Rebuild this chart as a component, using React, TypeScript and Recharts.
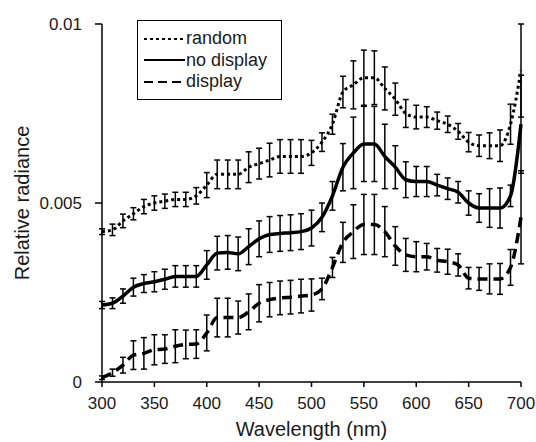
import { LineChart, Line, XAxis, YAxis, ErrorBar, Label } from 'recharts';

const wavelengths = [
  300, 310, 320, 330, 340, 350, 360, 370, 380, 390, 400, 410, 420, 430, 440, 450, 460, 470, 480, 490,
  500, 510, 520, 530, 540, 550, 560, 570, 580, 590, 600, 610, 620, 630, 640, 650, 660, 670, 680, 690, 700,
];

const random = [
  0.0042, 0.00425, 0.0045, 0.0047, 0.0049, 0.005, 0.00505, 0.0051, 0.0051, 0.0052, 0.0055, 0.0058, 0.0058,
  0.0058, 0.006, 0.0061, 0.0062, 0.0063, 0.0063, 0.0063, 0.0064, 0.0067, 0.0072, 0.0081, 0.0083, 0.0085,
  0.0085, 0.0082, 0.0079, 0.0075, 0.0074, 0.0074, 0.0073, 0.0072, 0.007, 0.0067, 0.0066, 0.0066, 0.0066,
  0.0072, 0.0087,
];
const randomErr = [
  0.00008, 0.00016, 0.00019, 0.00017, 0.0002, 0.0002, 0.0002, 0.0002, 0.0002, 0.00023, 0.00035, 0.0004,
  0.0004, 0.0004, 0.00043, 0.00043, 0.00047, 0.00047, 0.00047, 0.00047, 0.00035, 0.00026, 0.00028, 0.00044,
  0.00067, 0.00077, 0.00075, 0.0006, 0.00045, 0.00039, 0.00033, 0.00029, 0.00024, 0.00023, 0.00022, 0.00027,
  0.0003, 0.00036, 0.00044, 0.00056, 0.0013,
];

const noDisplay = [
  0.00215, 0.0022, 0.0024, 0.00265, 0.00275, 0.0028, 0.00287, 0.00295, 0.00295, 0.00295, 0.00327, 0.0036,
  0.00362, 0.00358, 0.00378, 0.004, 0.00412, 0.00415, 0.00417, 0.0042, 0.0043, 0.0046, 0.0052, 0.006, 0.0064,
  0.00665, 0.00665, 0.0063, 0.006, 0.00565, 0.0056, 0.0056, 0.0055, 0.0054, 0.0053, 0.005, 0.00486, 0.00486,
  0.00486, 0.0052, 0.0072,
];
const noDisplayErr = [
  0.0001, 0.00015, 0.0002, 0.00025, 0.00025, 0.00028, 0.00028, 0.0003, 0.0003, 0.0003, 0.0004, 0.00047,
  0.00047, 0.00047, 0.0005, 0.0005, 0.0005, 0.0005, 0.0005, 0.0005, 0.0005, 0.0004, 0.0004, 0.00066, 0.001,
  0.00105, 0.00105, 0.0009, 0.0006, 0.0005, 0.00042, 0.00042, 0.0003, 0.0003, 0.0003, 0.00034, 0.0004,
  0.00054, 0.00056, 0.0003, 0.00137,
];

const display = [
  0.00012, 0.00026, 0.00047, 0.00075, 0.0008, 0.0009, 0.00092, 0.001, 0.00105, 0.00106, 0.00137, 0.0018,
  0.0018, 0.0018, 0.00196, 0.0022, 0.0023, 0.00235, 0.00237, 0.0024, 0.00243, 0.0026, 0.0032, 0.0039, 0.0042,
  0.0044, 0.0044, 0.0042, 0.0038, 0.00355, 0.0035, 0.0035, 0.0034, 0.00336, 0.00327, 0.0029, 0.00288,
  0.00288, 0.00288, 0.0032, 0.0046,
];
const displayErr = [
  0.00005, 0.0001, 0.00022, 0.0004, 0.00044, 0.00042, 0.0004, 0.00046, 0.0004, 0.0004, 0.0005, 0.00054,
  0.00054, 0.00046, 0.0005, 0.00052, 0.00048, 0.00047, 0.00047, 0.00047, 0.00045, 0.0003, 0.00028, 0.00056,
  0.00075, 0.00084, 0.00084, 0.0007, 0.00054, 0.00046, 0.00042, 0.00037, 0.00033, 0.00035, 0.00031, 0.0003,
  0.00032, 0.00042, 0.00043, 0.0005, 0.0013,
];

const xTicks = [300, 350, 400, 450, 500, 550, 600, 650, 700];
const yTicks = [0, 0.005, 0.01];

const legendItems = [
  { name: 'random', dash: '3 3' },
  { name: 'no display', dash: undefined },
  { name: 'display', dash: '9 5' },
];

const data = wavelengths.map((w, i) => ({
  w,
  random: random[i],
  randomErr: randomErr[i],
  noDisplay: noDisplay[i],
  noDisplayErr: noDisplayErr[i],
  display: display[i],
  displayErr: displayErr[i],
}));

const font = '"Liberation Sans", Arial, sans-serif';
const tickStyle = { fontSize: 17, fill: '#1a1a1a', fontFamily: font };

function LegendBox() {
  return (
    <div
      style={{
        position: 'absolute',
        left: 137,
        top: 20,
        width: 143,
        height: 71,
        border: '1.5px solid #000',
        background: '#fff',
        paddingTop: 7,
      }}
    >
      {legendItems.map((it) => (
        <div key={it.name} style={{ display: 'flex', alignItems: 'center', height: 21.5 }}>
          <svg width={48} height={10}>
            <line x1={6} y1={5} x2={47} y2={5} stroke="#000" strokeWidth={2} strokeDasharray={it.dash} />
          </svg>
          <span style={{ fontFamily: font, fontSize: 18, color: '#1a1a1a', lineHeight: '21px' }}>{it.name}</span>
        </div>
      ))}
    </div>
  );
}

export default function App() {
  return (
    <div style={{ position: 'fixed', left: 0, top: 0, width: 536, height: 442, background: '#fff' }}>
      <LineChart width={536} height={442} data={data} margin={{ top: 24, right: 15, bottom: 0, left: 0 }}>
        <XAxis
          dataKey="w"
          type="number"
          domain={[300, 700]}
          ticks={xTicks}
          height={60}
          tickSize={5}
          tickMargin={10}
          tick={tickStyle}
          stroke="#000"
          strokeWidth={1.5}
        >
          <Label
            value="Wavelength (nm)"
            position="insideBottom"
            offset={6}
            style={{ fontSize: 20, fill: '#1a1a1a', fontFamily: font }}
          />
        </XAxis>
        <YAxis
          type="number"
          domain={[0, 0.01]}
          ticks={yTicks}
          width={102}
          tickSize={7}
          tickMargin={13}
          tick={tickStyle}
          stroke="#000"
          strokeWidth={1.5}
        >
          <Label
            content={() => (
              <text
                x={22}
                y={203}
                transform="rotate(-90 22 203)"
                textAnchor="middle"
                dominantBaseline="central"
                style={{ fontSize: 20, fill: '#1a1a1a', fontFamily: font }}
              >
                Relative radiance
              </text>
            )}
          />
        </YAxis>
        <Line
          dataKey="random"
          type="monotone"
          stroke="#000"
          strokeWidth={3}
          strokeDasharray="3 3"
          dot={false}
          isAnimationActive={false}
        >
          <ErrorBar dataKey="randomErr" direction="y" width={3} stroke="#000" strokeWidth={1.5} />
        </Line>
        <Line
          dataKey="noDisplay"
          type="monotone"
          stroke="#000"
          strokeWidth={3.5}
          dot={false}
          isAnimationActive={false}
        >
          <ErrorBar dataKey="noDisplayErr" direction="y" width={3} stroke="#000" strokeWidth={1.5} />
        </Line>
        <Line
          dataKey="display"
          type="monotone"
          stroke="#000"
          strokeWidth={3.5}
          strokeDasharray="10 6"
          dot={false}
          isAnimationActive={false}
        >
          <ErrorBar dataKey="displayErr" direction="y" width={3} stroke="#000" strokeWidth={1.5} />
        </Line>
      </LineChart>
      <LegendBox />
    </div>
  );
}
